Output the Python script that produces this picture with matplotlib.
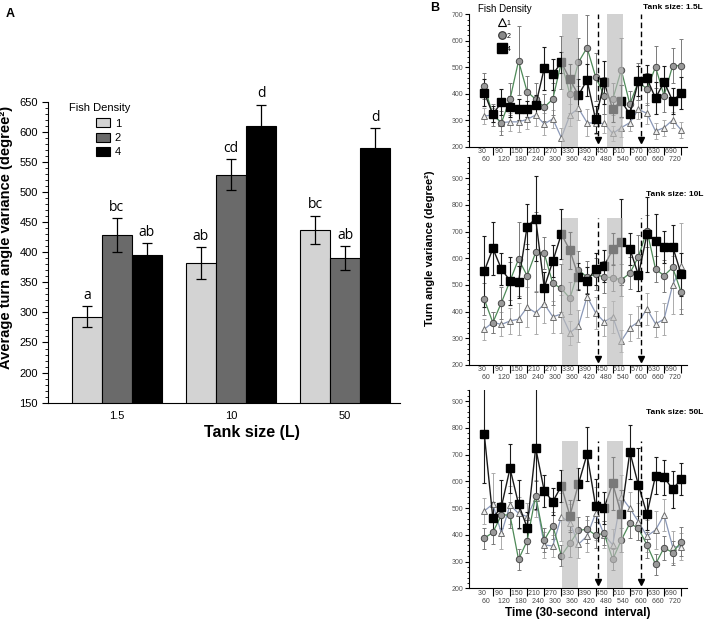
import numpy as np
import matplotlib.pyplot as plt
from matplotlib.ticker import MultipleLocator
from matplotlib.patches import Patch
from matplotlib.lines import Line2D

plt.rcParams["font.family"] = ["Liberation Sans", "DejaVu Sans"]

# ---------------- panel A: mean turn angle variance per tank size
tank_sizes = ["1.5", "10", "50"]
density_labels = ["1", "2", "4"]
mean_d1 = [293, 382, 437]
mean_d2 = [428, 529, 390]
mean_d4 = [396, 610, 573]
sem_d1 = [17, 26, 23]
sem_d2 = [28, 25, 20]
sem_d4 = [19, 35, 33]
letters_d1 = ["a", "ab", "bc"]
letters_d2 = ["bc", "cd", "ab"]
letters_d4 = ["ab", "d", "d"]

# ---------------- panel B: time course (30 s bins)
time_s = [30, 60, 90, 120, 150, 180, 210, 240, 270, 300, 330, 360,
          390, 420, 450, 480, 510, 540, 570, 600, 630, 660, 690, 720]

# 1.5 L tank
t15_d1 = [316, 320, 291, 294, 294, 303, 320, 286, 305, 234, 320, 345,
          291, 288, 288, 250, 272, 291, 341, 326, 259, 272, 301, 263]
t15_d1_err = [30, 25, 30, 35, 40, 35, 40, 40, 35, 35, 40, 45,
              50, 40, 35, 30, 35, 30, 35, 40, 30, 30, 30, 30]
t15_d2 = [429, 320, 291, 379, 524, 408, 379, 349, 380, 519, 398, 519,
          574, 464, 393, 379, 490, 361, 445, 418, 501, 393, 506, 506]
t15_d2_err = [50, 40, 45, 60, 130, 60, 60, 50, 60, 100, 70, 90,
              125, 90, 70, 60, 120, 50, 70, 60, 80, 60, 65, 100]
t15_d4 = [404, 322, 368, 351, 342, 342, 357, 496, 473, 519, 454, 395,
          452, 303, 443, 342, 373, 322, 448, 458, 383, 445, 373, 402]
t15_d4_err = [50, 30, 50, 40, 40, 30, 40, 80, 60, 40, 60, 60,
              60, 50, 80, 50, 60, 35, 55, 50, 60, 60, 50, 60]

# 10 L tank
t10_d1 = [334, 360, 352, 365, 372, 416, 396, 429, 381, 391, 321, 347,
          456, 396, 362, 381, 290, 340, 362, 410, 354, 372, 500, 571]
t10_d1_err = [40, 40, 45, 50, 60, 75, 80, 70, 60, 70, 45, 60,
              75, 60, 55, 60, 40, 50, 60, 60, 50, 60, 110, 160]
t10_d2 = [446, 359, 434, 515, 597, 535, 622, 619, 506, 487, 450, 556,
          530, 540, 529, 528, 519, 544, 606, 704, 560, 535, 566, 472]
t10_d2_err = [60, 40, 60, 70, 140, 120, 150, 60, 80, 90, 60, 70,
              60, 60, 60, 50, 60, 60, 80, 60, 50, 60, 70, 80]
t10_d4 = [552, 637, 560, 516, 511, 719, 749, 490, 589, 691, 630, 531,
          516, 559, 571, 634, 661, 636, 537, 690, 665, 644, 644, 540]
t10_d4_err = [133, 100, 60, 90, 60, 85, 160, 60, 60, 95, 70, 50,
              50, 60, 60, 60, 160, 60, 60, 140, 100, 60, 80, 80]

# 50 L tank
t50_d1 = [489, 515, 405, 511, 480, 468, 536, 362, 358, 468, 445, 365,
          395, 480, 400, 362, 542, 499, 449, 395, 418, 474, 355, 355]
t50_d1_err = [50, 115, 60, 70, 60, 50, 70, 50, 40, 90, 70, 50,
              60, 100, 50, 60, 80, 60, 70, 60, 70, 60, 60, 50]
t50_d2 = [387, 409, 474, 474, 308, 377, 546, 380, 434, 322, 368, 416,
          421, 399, 405, 308, 380, 443, 424, 362, 290, 352, 333, 374]
t50_d2_err = [40, 45, 50, 50, 40, 45, 55, 45, 50, 40, 50, 50,
              50, 50, 45, 40, 45, 55, 45, 50, 40, 45, 45, 55]
t50_d4 = [775, 462, 505, 648, 515, 427, 725, 564, 524, 582, 471, 590,
          701, 508, 501, 592, 476, 710, 586, 477, 621, 615, 570, 608]
t50_d4_err = [180, 60, 100, 90, 90, 60, 230, 60, 50, 60, 60, 60,
              100, 100, 60, 100, 90, 100, 140, 60, 70, 65, 70, 60]

# shaded stimulus windows and event markers (in bin index units)
shade_spans = [(9.1, 10.9), (14.35, 16.15)]
event_bins = [13.25, 18.35]

fig = plt.figure(figsize=(7.08, 6.22), dpi=100)

# ================= A =================
axA = fig.add_axes([0.0682, 0.3526, 0.4968, 0.4839])
xg = np.arange(len(tank_sizes))
w = 0.263
bar_cols = ["#d3d3d3", "#6a6a6a", "#000000"]
groups = [(mean_d1, sem_d1, letters_d1), (mean_d2, sem_d2, letters_d2), (mean_d4, sem_d4, letters_d4)]
for k, (m, s, lt) in enumerate(groups):
    xs = xg + (k - 1) * w
    axA.bar(xs, m, w, yerr=s, color=bar_cols[k], edgecolor="black", linewidth=0.8,
            capsize=3.5, error_kw=dict(elinewidth=0.9, capthick=0.9, ecolor="black"))
    for xi, mi, si, li in zip(xs, m, s, lt):
        axA.text(xi, mi + si + 6, li, ha="center", va="bottom", fontsize=10,
                 family=["Open Sans", "DejaVu Sans"])

axA.set_ylim(150, 650)
axA.set_xlim(-0.6, 2.48)
axA.set_xticks(xg, tank_sizes)
axA.yaxis.set_major_locator(MultipleLocator(50))
axA.yaxis.set_minor_locator(MultipleLocator(10))
axA.tick_params(axis="both", labelsize=8, width=0.8)
axA.tick_params(axis="y", which="major", length=4)
axA.tick_params(axis="y", which="minor", length=2, width=0.6)
axA.tick_params(axis="x", length=0, pad=6)
for sp in ["top", "right"]:
    axA.spines[sp].set_visible(False)
axA.set_ylabel("Average turn angle variance (degree²)", fontsize=10.5, fontweight="bold")
axA.yaxis.set_label_coords(-0.1, 0.55)
axA.set_xlabel("Tank size (L)", fontsize=11.5, fontweight="bold")
axA.xaxis.set_label_coords(0.578, -0.075)

axA.text(0.059, 0.979, "Fish Density", transform=axA.transAxes, fontsize=8, va="center")
handlesA = [Patch(facecolor=c, edgecolor="black", linewidth=0.8) for c in bar_cols]
axA.legend(handlesA, density_labels, loc="upper left", bbox_to_anchor=(0.135, 0.945),
           frameon=False, fontsize=8, handlelength=1.3, handleheight=0.9,
           handletextpad=0.4, labelspacing=0.35, borderpad=0, borderaxespad=0)

fig.text(0.008, 0.972, "A", fontsize=9, fontweight="bold")
fig.text(0.608, 0.982, "B", fontsize=9, fontweight="bold")

# ================= B =================
panels = [
    ([0.6624, 0.7641, 0.3075, 0.2129], (t15_d1, t15_d1_err), (t15_d2, t15_d2_err), (t15_d4, t15_d4_err),
     700, 700, 700, "Tank size: 1.5L", 1.055),
    ([0.6624, 0.4132, 0.3075, 0.3344], (t10_d1, t10_d1_err), (t10_d2, t10_d2_err), (t10_d4, t10_d4_err),
     980, 750, 750, "Tank size: 10L", 0.822),
    ([0.6624, 0.0542, 0.3075, 0.3183], (t50_d1, t50_d1_err), (t50_d2, t50_d2_err), (t50_d4, t50_d4_err),
     940, 750, 750, "Tank size: 50L", 0.89),
]

x = np.arange(len(time_s))
axes_B = []
for rect, s1, s2, s4, ytop, shade_top, dash_top, title, ty in panels:
    ax = fig.add_axes(rect)
    ax.set_facecolor("none")
    axes_B.append(ax)
    ax.errorbar(x, s1[0], yerr=s1[1], fmt="none", ecolor="#ababab", elinewidth=0.7, capsize=1.3, capthick=0.7, zorder=1)
    ax.errorbar(x, s2[0], yerr=s2[1], fmt="none", ecolor="#7a7a7a", elinewidth=0.7, capsize=1.3, capthick=0.7, zorder=1)
    ax.errorbar(x, s4[0], yerr=s4[1], fmt="none", ecolor="#1a1a1a", elinewidth=0.8, capsize=1.3, capthick=0.8, zorder=2)
    ax.plot(x, s1[0], "-", color="#8a98b8", lw=0.9, marker="^", ms=5, mfc="#f0f0f0",
            mec="#6e6e6e", mew=0.7, zorder=3)
    ax.plot(x, s2[0], "-", color="#4e8a58", lw=0.9, marker="o", ms=4.6, mfc="#9a9a9a",
            mec="#4a4a4a", mew=0.7, zorder=4)
    ax.plot(x, s4[0], "-", color="#1a1a1a", lw=1.0, marker="s", ms=5.2, mfc="black",
            mec="black", zorder=5)
    for a, b in shade_spans:
        ax.fill_between([a, b], 200, shade_top, color="#bbbbbb", alpha=0.65, lw=0, zorder=6)
    for ev in event_bins:
        ax.vlines(ev, 240, dash_top, colors="black", linestyles=(0, (4, 2.5)), lw=1.0, zorder=7)
        ax.plot(ev, 224, marker="v", color="black", ms=5, zorder=7)

    ax.set_xlim(-1.79, 23.64)
    ax.set_ylim(200, ytop)
    ax.yaxis.set_major_locator(MultipleLocator(100))
    ax.yaxis.set_minor_locator(MultipleLocator(20))
    ax.tick_params(axis="y", which="major", labelsize=5, labelcolor="#555555", length=3, width=0.8, pad=1)
    ax.tick_params(axis="y", which="minor", length=1.6, width=0.6)
    ax.set_xticks(x[1::2], [""] * len(x[1::2]))
    ax.set_xticks(x[0::2], [f"{a}  \n  {b}" for a, b in zip(time_s[0::2], time_s[1::2])], minor=True)
    ax.tick_params(axis="x", which="major", length=6, width=0.8)
    ax.tick_params(axis="x", which="minor", length=0, labelsize=5, labelcolor="#444444", pad=1)
    for sp in ["top", "right"]:
        ax.spines[sp].set_visible(False)
    ax.text(1.075, ty, title, transform=ax.transAxes, ha="right", va="center",
            fontsize=6, fontweight="bold")

ax1 = axes_B[0]
ax1.text(0.041, 1.04, "Fish Density", transform=ax1.transAxes, fontsize=7, va="center")
handlesB = [
    Line2D([], [], ls="none", marker="^", ms=6, mfc="white", mec="black", mew=0.8),
    Line2D([], [], ls="none", marker="o", ms=5.5, mfc="#8a8a8a", mec="#333333", mew=0.8),
    Line2D([], [], ls="none", marker="s", ms=6.5, mfc="black", mec="black"),
]
ax1.legend(handlesB, density_labels, loc="upper left", bbox_to_anchor=(0.135, 0.965),
           frameon=False, fontsize=5, handlelength=1.0, handleheight=1.3, handletextpad=0.2,
           labelspacing=0.7, borderpad=0, borderaxespad=0)

axes_B[1].set_ylabel("Turn angle variance (degree²)", fontsize=8, fontweight="bold")
axes_B[1].yaxis.set_label_coords(-0.156, 0.56)
axes_B[2].set_xlabel("Time (30-second  interval)", fontsize=8.5, fontweight="bold", labelpad=2)

fig.savefig("out.png", dpi=100)
